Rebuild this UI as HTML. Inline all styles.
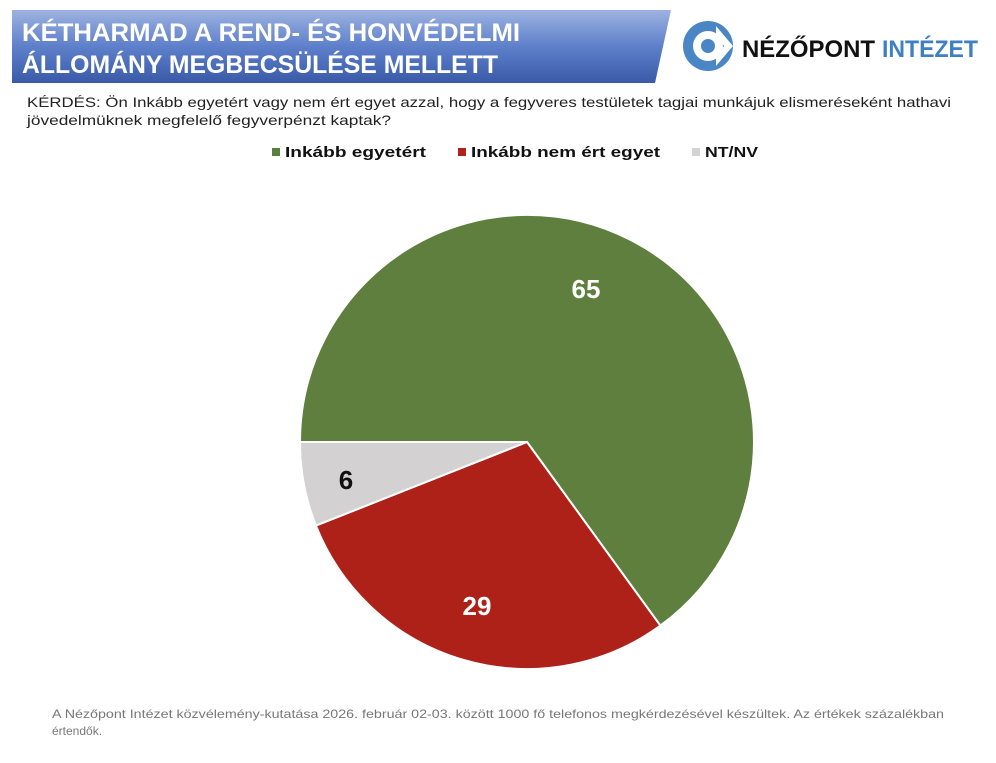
<!DOCTYPE html>
<html><head><meta charset="utf-8"><style>
body{margin:0;background:#fff;width:996px;height:758px;overflow:hidden;font-family:"Liberation Sans",sans-serif;}
</style></head><body>
<svg width="996" height="758" viewBox="0 0 996 758" xmlns="http://www.w3.org/2000/svg">
<defs><linearGradient id="g" x1="0" y1="0" x2="0" y2="1">
<stop offset="0" stop-color="#9db3e0"/><stop offset="0.5" stop-color="#5e7fca"/><stop offset="1" stop-color="#3a5aa8"/></linearGradient></defs>
<polygon points="12,10 671,10 655,83 12,83" fill="url(#g)"/>
<text x="22" y="41" font-size="25" font-weight="bold" fill="#fff" textLength="498" lengthAdjust="spacingAndGlyphs">KÉTHARMAD A REND- ÉS HONVÉDELMI</text>
<text x="22" y="73" font-size="25" font-weight="bold" fill="#fff" textLength="476" lengthAdjust="spacingAndGlyphs">ÁLLOMÁNY MEGBECSÜLÉSE MELLETT</text>
<circle cx="708" cy="46" r="25" fill="#4a86c5"/>
<circle cx="708" cy="46" r="15" fill="#fff"/>
<circle cx="708" cy="46" r="7" fill="#4a86c5"/>
<polygon points="716,26 733,46 716,66 716,58 724,46 716,34" fill="#fff"/>
<text x="742" y="57" font-size="24" font-weight="bold" fill="#111" textLength="133" lengthAdjust="spacingAndGlyphs">NÉZŐPONT</text>
<text x="882" y="57" font-size="24" fill="#3f7fc4" font-weight="bold" textLength="96" lengthAdjust="spacingAndGlyphs">INTÉZET</text>
<text x="27" y="107" font-size="14" fill="#222" textLength="924" lengthAdjust="spacingAndGlyphs">KÉRDÉS: Ön Inkább egyetért vagy nem ért egyet azzal, hogy a fegyveres testületek tagjai munkájuk elismeréseként hathavi</text>
<text x="27" y="125" font-size="14" fill="#222" textLength="364" lengthAdjust="spacingAndGlyphs">jövedelmüknek megfelelő fegyverpénzt kaptak?</text>
<rect x="272" y="148" width="8" height="8" fill="#5b7f3b"/>
<text x="285" y="157" font-size="15" font-weight="bold" fill="#111" textLength="141" lengthAdjust="spacingAndGlyphs">Inkább egyetért</text>
<rect x="458" y="148" width="8" height="8" fill="#b0211a"/>
<text x="471" y="157" font-size="15" font-weight="bold" fill="#111" textLength="189" lengthAdjust="spacingAndGlyphs">Inkább nem ért egyet</text>
<rect x="692" y="148" width="8" height="8" fill="#d3d3d3"/>
<text x="705" y="157" font-size="15" font-weight="bold" fill="#111" textLength="53" lengthAdjust="spacingAndGlyphs">NT/NV</text>
<g stroke="#fff" stroke-width="2">
<path d="M527,442 L300,442 A227,227 0 1 1 660.4,625.6 Z" fill="#5e7f3d"/>
<path d="M527,442 L660.4,625.6 A227,227 0 0 1 315.9,525.6 Z" fill="#ad2119"/>
<path d="M527,442 L315.9,525.6 A227,227 0 0 1 300,442 Z" fill="#d3d1d2"/>
</g>
<text x="586" y="298" font-size="26" font-weight="bold" fill="#fff" text-anchor="middle">65</text>
<text x="477" y="615" font-size="26" font-weight="bold" fill="#fff" text-anchor="middle">29</text>
<text x="346" y="489" font-size="26" font-weight="bold" fill="#111" text-anchor="middle">6</text>
<text x="52" y="718" font-size="12" fill="#777" textLength="892" lengthAdjust="spacingAndGlyphs">A Nézőpont Intézet közvélemény-kutatása 2026. február 02-03. között 1000 fő telefonos megkérdezésével készültek. Az értékek százalékban</text>
<text x="52" y="735" font-size="12" fill="#777">értendők.</text>
</svg>
</body></html>
